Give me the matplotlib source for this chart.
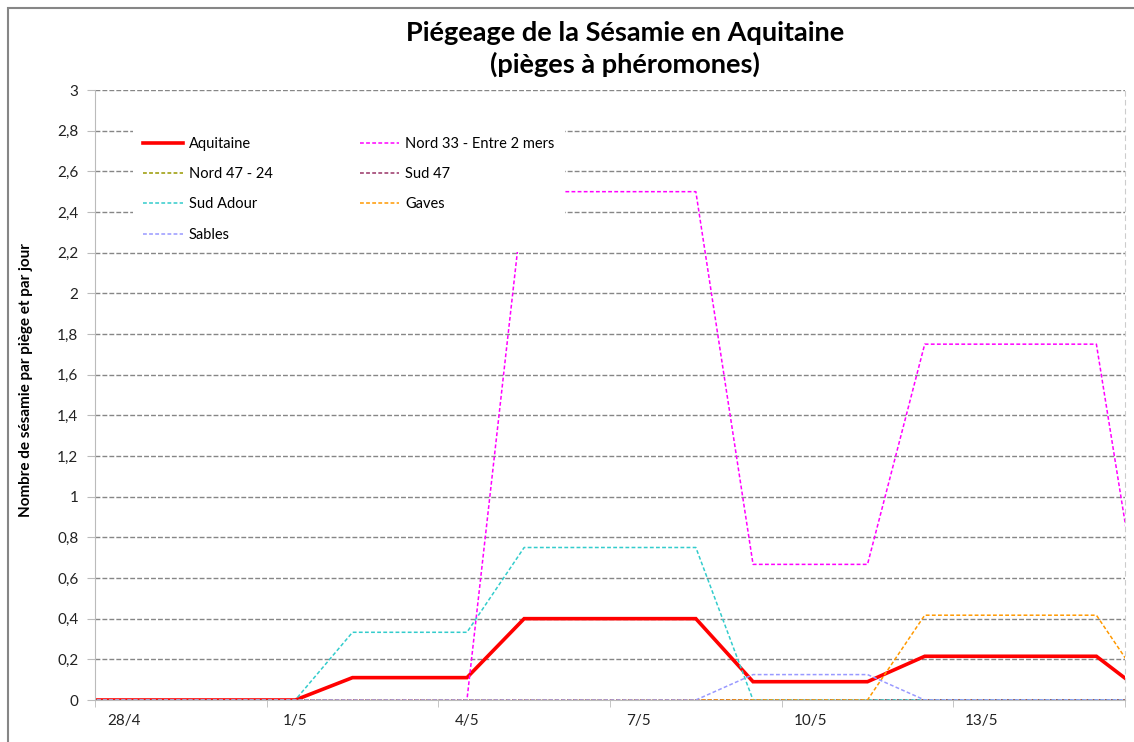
import numpy as np
import matplotlib
matplotlib.use("Agg")
import matplotlib.pyplot as plt
from matplotlib.patches import Rectangle
from matplotlib.ticker import FuncFormatter

plt.rcParams['font.family'] = ['Lato', 'DejaVu Sans']

# Dates (27/4 -> 16/5), one value per day
dates = ["27/4", "28/4", "29/4", "30/4", "1/5", "2/5", "3/5", "4/5", "5/5", "6/5",
         "7/5", "8/5", "9/5", "10/5", "11/5", "12/5", "13/5", "14/5", "15/5", "16/5"]

aquitaine = [0, 0, 0, 0, 0, 0.11, 0.11, 0.11, 0.40, 0.40, 0.40, 0.40,
             0.09, 0.09, 0.09, 0.215, 0.215, 0.215, 0.215, 0]
nord33 = [0, 0, 0, 0, 0, 0, 0, 0, 2.5, 2.5, 2.5, 2.5,
          0.667, 0.667, 0.667, 1.75, 1.75, 1.75, 1.75, 0]
nord47_24 = [0] * 20
sud47 = [0] * 20
sud_adour = [0, 0, 0, 0, 0, 0.333, 0.333, 0.333, 0.75, 0.75, 0.75, 0.75,
             0, 0, 0, 0, 0, 0, 0, 0]
gaves = [0, 0, 0, 0, 0, 0, 0, 0, 0, 0, 0, 0,
         0, 0, 0, 0.417, 0.417, 0.417, 0.417, 0]
sables = [0, 0, 0, 0, 0, 0, 0, 0, 0, 0, 0, 0,
          0.125, 0.125, 0.125, 0, 0, 0, 0, 0]

x = np.arange(len(dates))

fig = plt.figure(figsize=(11.34, 7.42), dpi=100)
ax = fig.add_axes([95 / 1134, 1 - 700 / 742, 1030 / 1134, 610 / 742])

# chart frame
fig.patches.append(Rectangle((8 / 1134, -0.1), 1.2, 1 - 8 / 742 + 0.1,
                             transform=fig.transFigure, fill=False,
                             edgecolor="#868686", lw=1.5))

dash = (2.5, 1.5)
h_aq, = ax.plot(x, aquitaine, color="#FF0000", lw=2.6, label="Aquitaine", solid_joinstyle="miter")
h_n33, = ax.plot(x, nord33, color="#FF00FF", lw=1.1, dashes=dash, label="Nord 33 - Entre 2 mers")
h_n47, = ax.plot(x, nord47_24, color="#999900", lw=1.1, dashes=dash, label="Nord 47 - 24")
h_s47, = ax.plot(x, sud47, color="#993366", lw=1.1, dashes=dash, label="Sud 47")
h_sa, = ax.plot(x, sud_adour, color="#33CCCC", lw=1.1, dashes=dash, label="Sud Adour")
h_g, = ax.plot(x, gaves, color="#FF9900", lw=1.1, dashes=dash, label="Gaves")
h_sb, = ax.plot(x, sables, color="#9999FF", lw=1.1, dashes=dash, label="Sables")

ax.set_yticks(np.arange(0, 3.01, 0.2))
ax.yaxis.set_major_formatter(FuncFormatter(lambda v, p: ("%g" % round(v, 1)).replace(".", ",")))
ax.set_xticks(x[1:17:3])
ax.set_xticklabels(dates[1:17:3])
ax.set_xticks(np.arange(0.5, 18.6, 3), minor=True)
ax.set_xlim(0.5, 18.5)
ax.set_ylim(0, 3)
ax.tick_params(axis="x", which="major", length=0, pad=10, labelsize=11, colors="#222222")
ax.tick_params(axis="x", which="minor", length=5, color="#BBBBBB", direction="out")
ax.tick_params(axis="y", length=6, color="#BBBBBB", labelsize=11, labelcolor="#222222", pad=6)

ax.grid(axis="y", color="#868686", lw=1.0, dashes=(3.5, 1.5))
ax.set_axisbelow(True)
ax.spines["top"].set_visible(False)
ax.spines["left"].set_color("#BBBBBB")
ax.spines["bottom"].set_color("#BBBBBB")
ax.spines["right"].set_color("#CCCCCC")
ax.spines["right"].set_linestyle((0, (4, 4)))

ax.set_ylabel("Nombre de sésamie par piège et par jour", fontsize=11, fontweight="bold")
ax.yaxis.set_label_coords(-0.060, 0.525)

fig.text(625 / 1134, 1 - 49 / 742, "Piégeage de la Sésamie en Aquitaine\n(pièges à phéromones)",
         ha="center", va="center", fontsize=19.5, fontweight="bold", linespacing=1.32)

handles = [h_aq, h_n47, h_sa, h_sb, h_n33, h_s47, h_g]
leg = ax.legend(handles=handles, labels=[h.get_label() for h in handles], ncol=2,
                loc="upper left", bbox_to_anchor=(0.037, 0.94), borderaxespad=0,
                frameon=True, facecolor="white", edgecolor="none", framealpha=1,
                fancybox=False, fontsize=10.5, handlelength=2.7, handletextpad=0.4,
                columnspacing=6.0, labelspacing=1.12, borderpad=0.7)
leg.set_zorder(5)

fig.savefig("out.png", dpi=100)
